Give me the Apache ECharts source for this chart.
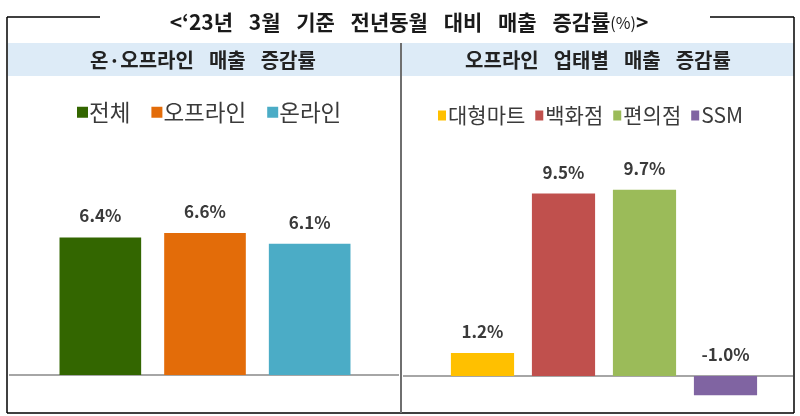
<!DOCTYPE html>
<html>
<head>
<meta charset="utf-8">
<script src="https://cdn.jsdelivr.net/npm/echarts@6/dist/echarts.min.js"></script>
<style>html,body{margin:0;padding:0;background:#fff}#c{width:800px;height:416px}</style>
</head>
<body>
<div id="c"></div>
<script>
const titleText = '<‘23년 3월 기준 전년동월 대비 매출 증감률';
const leftHeader = '온·오프라인 매출 증감률';
const rightHeader = '오프라인 업태별 매출 증감률';
const leftCategories = ['전체', '오프라인', '온라인'];
const leftValues = [6.4, 6.6, 6.1];
const leftColors = ['#336600', '#E36C09', '#4BACC6'];
const rightCategories = ['대형마트', '백화점', '편의점', 'SSM'];
const rightValues = [1.2, 9.5, 9.7, -1.0];
const rightColors = ['#FFC000', '#C0504D', '#9BBB59', '#8064A2'];

const FONT = "'Noto Sans CJK KR', 'Noto Sans', sans-serif";
const wide = (s, sp) => s.split(' ').join(sp);
const chart = echarts.init(document.getElementById('c'), null, {renderer: 'canvas'});

function makeSeries(cats, vals, colors, axisIdx) {
  return cats.map((name, i) => ({
    name: name,
    type: 'bar',
    xAxisIndex: axisIdx,
    yAxisIndex: axisIdx,
    stack: 'g' + axisIdx,
    barCategoryGap: '22%',
    itemStyle: {color: colors[i]},
    label: {
      show: true,
      position: 'top',
      distance: 13,
      fontFamily: FONT,
      fontSize: 17,
      fontWeight: 'bold',
      color: '#3a3a3a',
      formatter: p => p.value.toFixed(1) + '%'
    },
    data: cats.map((c, j) => j === i ? vals[i] : '-')
  }));
}

const series = makeSeries(leftCategories, leftValues, leftColors, 0)
  .concat(makeSeries(rightCategories, rightValues, rightColors, 1));

const option = {
  animation: false,
  backgroundColor: '#fff',
  title: {
    text: wide(titleText, '\u2002\u2005') + '{s|(%)}>',
    left: 404,
    textAlign: 'center',
    top: 7,
    textStyle: {
      fontFamily: FONT, fontSize: 21, fontWeight: 'bold', color: '#1a1a1a',
      rich: {s: {fontFamily: FONT, fontSize: 16, fontWeight: 'normal', color: '#1a1a1a'}}
    }
  },
  legend: [
    {
      data: leftCategories,
      left: 72, top: 96,
      icon: 'rect', itemWidth: 11, itemHeight: 11, itemGap: 21,
      textStyle: {fontFamily: FONT, fontSize: 22.5, color: '#3a3a3a', padding: [0, 0, 0, -4]}
    },
    {
      data: rightCategories,
      left: 433, top: 100,
      icon: 'rect', itemWidth: 8, itemHeight: 10, itemGap: 10,
      textStyle: {fontFamily: FONT, fontSize: 21, color: '#3a3a3a', padding: [0, 0, 0, -3]}
    }
  ],
  grid: [
    {left: 48, width: 314, top: 203, bottom: 41},
    {left: 442, width: 324, top: 184, bottom: 1.6}
  ],
  xAxis: [
    {type: 'category', gridIndex: 0, data: leftCategories, axisLine: {show: false}, axisTick: {show: false}, axisLabel: {show: false}},
    {type: 'category', gridIndex: 1, data: rightCategories, axisLine: {show: false}, axisTick: {show: false}, axisLabel: {show: false}}
  ],
  yAxis: [
    {type: 'value', gridIndex: 0, min: 0, max: 8, show: false, splitLine: {show: false}},
    {type: 'value', gridIndex: 1, min: -2, max: 10, show: false, splitLine: {show: false}}
  ],
  series: series
};
chart.setOption(option);

const y0L = chart.convertToPixel({yAxisIndex: 0}, 0);
const y0R = chart.convertToPixel({yAxisIndex: 1}, 0);
const frame = {stroke: '#000', lineWidth: 1.5};
chart.setOption({
  graphic: [
    {type: 'rect', z: -10, shape: {x: 8, y: 43, width: 786, height: 33}, style: {fill: '#DDEBF7'}},
    {type: 'line', shape: {x1: 7, y1: 17, x2: 100, y2: 17}, style: frame},
    {type: 'line', shape: {x1: 710, y1: 17, x2: 794, y2: 17}, style: frame},
    {type: 'line', shape: {x1: 7, y1: 17, x2: 7, y2: 413}, style: frame},
    {type: 'line', shape: {x1: 794, y1: 17, x2: 794, y2: 413}, style: frame},
    {type: 'line', shape: {x1: 7, y1: 413, x2: 794, y2: 413}, style: frame},
    {type: 'line', shape: {x1: 401, y1: 43, x2: 401, y2: 413}, style: {stroke: '#6f6f6f', lineWidth: 2}},
    {type: 'line', shape: {x1: 9, y1: y0L, x2: 399, y2: y0L}, style: {stroke: '#a6a6a6', lineWidth: 2}},
    {type: 'line', shape: {x1: 403, y1: y0R, x2: 793, y2: y0R}, style: {stroke: '#a6a6a6', lineWidth: 2}},
    {type: 'text', x: 203, y: 60, style: {text: wide(leftHeader, '\u2002\u2005'), fontFamily: FONT, fontSize: 20, fontWeight: 'bold', fill: '#222', align: 'center', verticalAlign: 'middle'}},
    {type: 'text', x: 598, y: 60, style: {text: wide(rightHeader, '\u2002\u2005'), fontFamily: FONT, fontSize: 20, fontWeight: 'bold', fill: '#222', align: 'center', verticalAlign: 'middle'}}
  ]
});
</script>
</body>
</html>
